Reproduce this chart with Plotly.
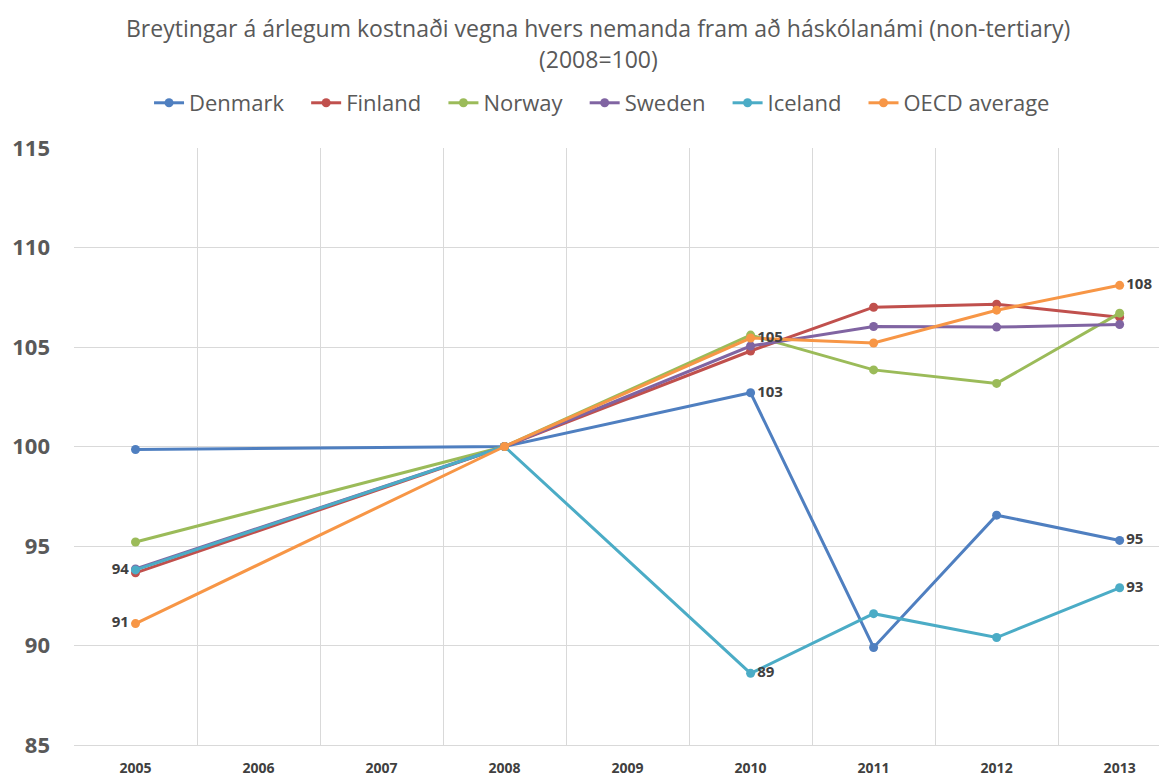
import plotly.graph_objects as go

years = ["2005", "2006", "2007", "2008", "2009", "2010", "2011", "2012", "2013"]

denmark = [99.85, None, None, 100, None, 102.7, 89.9, 96.55, 95.28]
finland = [93.65, None, None, 100, None, 104.8, 107.0, 107.15, 106.5]
norway = [95.2, None, None, 100, None, 105.6, 103.85, 103.17, 106.7]
sweden = [93.85, None, None, 100, None, 105.05, 106.03, 106.0, 106.13]
iceland = [93.8, None, None, 100, None, 88.6, 91.6, 90.4, 92.9]
oecd = [91.1, None, None, 100, None, 105.45, 105.2, 106.85, 108.1]

denmark_labels = ["", "", "", "", "", "103", "", "", "95"]
iceland_labels = ["94", "", "", "", "", "89", "", "", "93"]
oecd_labels = ["91", "", "", "", "", "105", "", "", "108"]

title_line1 = "Breytingar á árlegum kostnaði vegna hvers nemanda fram að háskólanámi (non-tertiary)"
title_line2 = "(2008=100)"

series = [
    ("Denmark", denmark, "#4F7FC0", denmark_labels),
    ("Finland", finland, "#C0504D", None),
    ("Norway", norway, "#9BBB59", None),
    ("Sweden", sweden, "#8064A2", None),
    ("Iceland", iceland, "#4BACC6", iceland_labels),
    ("OECD average", oecd, "#F79646", oecd_labels),
]

FONT = "Open Sans, DejaVu Sans"
PAD = "\u00a0\u00a0\u00a0"

fig = go.Figure()
for i, (name, vals, color, labels) in enumerate(series):
    if labels is not None:
        kw = dict(
            text=labels,
            textposition=["middle left"] + ["middle right"] * 8,
            textfont=dict(family=FONT, size=15, color="#404040", weight="bold"),
            mode="lines+markers+text",
        )
    else:
        kw = dict(mode="lines+markers")
    shown = name + (PAD if i < len(series) - 1 else "")
    fig.add_trace(go.Scatter(
        x=years, y=vals, name=shown, connectgaps=True,
        line=dict(color=color, width=3),
        marker=dict(color=color, size=9),
        **kw,
    ))

fig.update_layout(
    width=1167, height=776,
    paper_bgcolor="white", plot_bgcolor="white",
    margin=dict(l=66, r=0, t=140, b=39, autoexpand=False),
    legend=dict(
        orientation="h", x=0.4796, xanchor="center", y=1.0754, yanchor="middle",
        font=dict(family=FONT, size=22, color="#595959"),
        itemwidth=30, traceorder="normal",
    ),
    showlegend=True,
    annotations=[
        dict(text=title_line1, xref="paper", yref="paper", x=0.476, y=1.201,
             xanchor="center", yanchor="middle", showarrow=False,
             font=dict(family=FONT, size=23, color="#595959")),
        dict(text=title_line2, xref="paper", yref="paper", x=0.476, y=1.149,
             xanchor="center", yanchor="middle", showarrow=False,
             font=dict(family=FONT, size=23, color="#595959")),
    ],
)

fig.update_xaxes(
    type="category", categoryorder="array", categoryarray=years,
    range=[-0.5, 8.45], tickson="boundaries", showgrid=True, automargin=False,
    gridcolor="#D9D9D9", gridwidth=1, ticks="", showline=True, linecolor="#D9D9D9",
    ticklabelstandoff=10,
    tickfont=dict(family=FONT, size=14, color="#404040", weight="bold"),
)
fig.update_yaxes(
    range=[85, 115], dtick=5, showgrid=True, gridcolor="#D9D9D9", gridwidth=1,
    zeroline=False, ticks="", ticklabelstandoff=23, automargin=False,
    tickfont=dict(family=FONT, size=22, color="#595959", weight="bold"),
)

fig.write_html("out.html")
